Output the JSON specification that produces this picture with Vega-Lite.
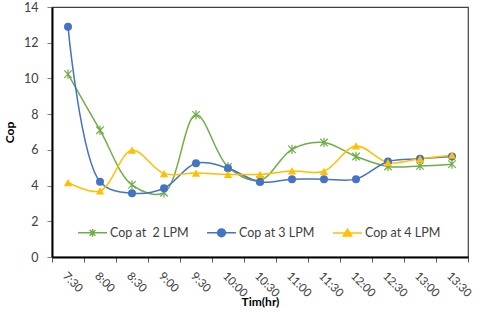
{
  "$schema": "https://vega.github.io/schema/vega-lite/v6.json",
  "width": 416,
  "height": 250,
  "autosize": {"type": "none"},
  "padding": {"left": 52, "top": 7, "right": 12, "bottom": 56},
  "background": "white",
  "config": {
    "font": "Lato",
    "view": {"stroke": "#404040", "strokeWidth": 1.2},
    "axis": {"grid": false, "domainColor": "#000000", "domainWidth": 2, "tickColor": "#808080", "labelColor": "#404040", "labelFontSize": 12.5, "titleFontSize": 12, "titleFontWeight": "bold", "titleColor": "#000000"}
  },
  "data": {
    "values": [
      {"time": "7:30", "series": "Cop at  2 LPM", "cop": 10.24},
      {"time": "8:00", "series": "Cop at  2 LPM", "cop": 7.1},
      {"time": "8:30", "series": "Cop at  2 LPM", "cop": 4.04},
      {"time": "9:00", "series": "Cop at  2 LPM", "cop": 3.6},
      {"time": "9:30", "series": "Cop at  2 LPM", "cop": 7.96},
      {"time": "10:00", "series": "Cop at  2 LPM", "cop": 5.05},
      {"time": "10:30", "series": "Cop at  2 LPM", "cop": 4.3},
      {"time": "11:00", "series": "Cop at  2 LPM", "cop": 6.03},
      {"time": "11:30", "series": "Cop at  2 LPM", "cop": 6.41},
      {"time": "12:00", "series": "Cop at  2 LPM", "cop": 5.63},
      {"time": "12:30", "series": "Cop at  2 LPM", "cop": 5.07},
      {"time": "13:00", "series": "Cop at  2 LPM", "cop": 5.1},
      {"time": "13:30", "series": "Cop at  2 LPM", "cop": 5.2},
      {"time": "7:30", "series": "Cop at 3 LPM", "cop": 12.9},
      {"time": "8:00", "series": "Cop at 3 LPM", "cop": 4.22},
      {"time": "8:30", "series": "Cop at 3 LPM", "cop": 3.57},
      {"time": "9:00", "series": "Cop at 3 LPM", "cop": 3.85},
      {"time": "9:30", "series": "Cop at 3 LPM", "cop": 5.25},
      {"time": "10:00", "series": "Cop at 3 LPM", "cop": 4.97},
      {"time": "10:30", "series": "Cop at 3 LPM", "cop": 4.2},
      {"time": "11:00", "series": "Cop at 3 LPM", "cop": 4.36},
      {"time": "11:30", "series": "Cop at 3 LPM", "cop": 4.36},
      {"time": "12:00", "series": "Cop at 3 LPM", "cop": 4.36},
      {"time": "12:30", "series": "Cop at 3 LPM", "cop": 5.35},
      {"time": "13:00", "series": "Cop at 3 LPM", "cop": 5.5},
      {"time": "13:30", "series": "Cop at 3 LPM", "cop": 5.63},
      {"time": "7:30", "series": "Cop at 4 LPM", "cop": 4.17},
      {"time": "8:00", "series": "Cop at 4 LPM", "cop": 3.7},
      {"time": "8:30", "series": "Cop at 4 LPM", "cop": 5.98},
      {"time": "9:00", "series": "Cop at 4 LPM", "cop": 4.67},
      {"time": "9:30", "series": "Cop at 4 LPM", "cop": 4.7},
      {"time": "10:00", "series": "Cop at 4 LPM", "cop": 4.63},
      {"time": "10:30", "series": "Cop at 4 LPM", "cop": 4.63},
      {"time": "11:00", "series": "Cop at 4 LPM", "cop": 4.82},
      {"time": "11:30", "series": "Cop at 4 LPM", "cop": 4.8},
      {"time": "12:00", "series": "Cop at 4 LPM", "cop": 6.22},
      {"time": "12:30", "series": "Cop at 4 LPM", "cop": 5.29},
      {"time": "13:00", "series": "Cop at 4 LPM", "cop": 5.5},
      {"time": "13:30", "series": "Cop at 4 LPM", "cop": 5.7}
    ]
  },
  "encoding": {
    "x": {
      "field": "time",
      "type": "ordinal",
      "bandPosition": 0.5,
      "scale": {"type": "band", "paddingInner": 0, "paddingOuter": 0, "domain": ["7:30","8:00","8:30","9:00","9:30","10:00","10:30","11:00","11:30","12:00","12:30","13:00","13:30"]},
      "axis": {"title": "Tim(hr)", "tickBand": "extent", "labelAngle": 45, "labelAlign": "left", "labelBaseline": "top", "tickSize": 5, "tickColor": "#595959", "labelPadding": 8, "labelFontSize": 11.5, "titleY": 44, "titleBaseline": "middle"}
    },
    "y": {
      "field": "cop",
      "type": "quantitative",
      "scale": {"domain": [0, 14], "nice": false},
      "axis": {"title": "Cop", "values": [0,2,4,6,8,10,12,14], "tickSize": 5, "labelPadding": 9, "titlePadding": 7}
    },
    "color": {
      "field": "series",
      "type": "nominal",
      "scale": {"domain": ["Cop at  2 LPM", "Cop at 3 LPM", "Cop at 4 LPM"], "range": ["#70AD47", "#4472C4", "#FFC000"]},
      "legend": {
        "title": null,
        "orient": "none",
        "direction": "horizontal",
        "legendX": 25,
        "legendY": 210,
        "labelFontSize": 12.5,
        "labelColor": "#404040",
        "labelExpr": "datum.label === 'Cop at  2 LPM' ? 'Cop at \u00a02 LPM' : datum.label",
        "symbolSize": 841,
        "symbolStrokeWidth": 1.5,
        "labelOffset": 2,
        "columnPadding": 15,
        "encode": {
          "symbols": {
            "update": {
              "shape": {"signal": "datum.value === 'Cop at  2 LPM' ? 'M-1,0H1M-0.2,-0.2L0.2,0.2M-0.2,0.2L0.2,-0.2M0,-0.26V0.26' : datum.value === 'Cop at 3 LPM' ? 'M-1,0H1M-0.27,0A0.27,0.27 0 1,0 0.27,0A0.27,0.27 0 1,0 -0.27,0Z' : 'M-1,0H1M-0.29,0.2L0,-0.27L0.29,0.2Z'"},
              "fill": {"scale": "color", "field": "value"},
              "stroke": {"scale": "color", "field": "value"},
              "strokeWidth": {"value": 1.5}
            }
          }
        }
      }
    }
  },
  "layer": [
    {
      "mark": {"type": "line", "interpolate": "catmull-rom", "strokeWidth": 1.5}
    },
    {
      "transform": [{"filter": "datum.series === 'Cop at  2 LPM'"}],
      "mark": {"type": "point", "filled": false, "size": 56, "strokeWidth": 1.2, "opacity": 1, "shape": "M-1,-1L1,1M-1,1L1,-1M0,-1.25V1.25"}
    },
    {
      "transform": [{"filter": "datum.series === 'Cop at 3 LPM'"}],
      "mark": {"type": "point", "filled": true, "size": 64, "opacity": 1, "shape": "circle"}
    },
    {
      "transform": [{"filter": "datum.series === 'Cop at 4 LPM'"}],
      "mark": {"type": "point", "filled": true, "size": 70, "opacity": 1, "shape": "triangle-up"}
    }
  ]
}
